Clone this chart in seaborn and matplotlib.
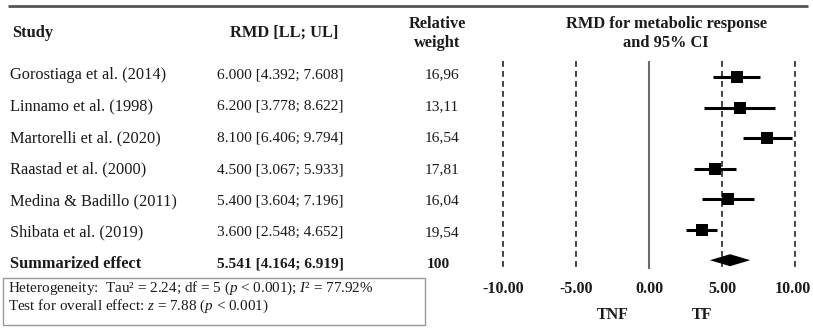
import matplotlib
matplotlib.use("Agg")
import matplotlib.pyplot as plt
import numpy as np
import pandas as pd
import seaborn as sns
from matplotlib.patches import Rectangle
from matplotlib.transforms import offset_copy

# Study-level data
studies = ["Gorostiaga et al. (2014)", "Linnamo et al. (1998)", "Martorelli et al. (2020)",
           "Raastad et al. (2000)", "Medina & Badillo (2011)", "Shibata et al. (2019)"]
rmd = [6.000, 6.200, 8.100, 4.500, 5.400, 3.600]
lower = [4.392, 3.778, 6.406, 3.067, 3.604, 2.548]
upper = [7.608, 8.622, 9.794, 5.933, 7.196, 4.652]
weights = ["16,96", "13,11", "16,54", "17,81", "16,04", "19,54"]

# Pooled estimate
pooled = 5.541
pooled_lower = 4.164
pooled_upper = 6.919
pooled_weight = "100"

ticks = [-10, -5, 0, 5, 10]
reference_lines = [-10, -5, 5, 10]

sns.set_theme(style="white")
plt.rcParams["font.family"] = ["Liberation Serif", "DejaVu Serif"]
plt.rcParams["mathtext.fontset"] = "custom"
plt.rcParams["mathtext.rm"] = "Liberation Serif"
plt.rcParams["mathtext.it"] = "Liberation Serif:italic"
plt.rcParams["mathtext.bf"] = "Liberation Serif:bold"
TXT = "#1a1a1a"
FS = 11.8        # study names
FS_NUM = 11.1    # numeric columns
FS_HEAD = 11.8
FS_TICK = 11.5
FS_NOTE = 10.9

fig = plt.figure(figsize=(8.13, 3.29), dpi=100)

# Text table drawn in a pixel-like coordinate frame
tab = fig.add_axes([0, 0, 1, 1])
tab.set_xlim(0, 813)
tab.set_ylim(329, 0)
tab.axis("off")

tab.plot([8, 808], [6, 6], color="#555555", lw=2, solid_capstyle="butt")

tab.text(12, 33, "Study", fontsize=FS_HEAD, fontweight="bold", color=TXT, va="center", ha="left")
tab.text(284, 33, "RMD [LL; UL]", fontsize=FS_HEAD, fontweight="bold", color=TXT, va="center", ha="center")
tab.text(437, 24, "Relative", fontsize=FS_HEAD, fontweight="bold", color=TXT, va="center", ha="center")
tab.text(437, 43, "weight", fontsize=FS_HEAD, fontweight="bold", color=TXT, va="center", ha="center")
tab.text(666, 24, "RMD for metabolic response", fontsize=FS_HEAD, fontweight="bold", color=TXT, va="center", ha="center")
tab.text(666, 43, "and 95% CI", fontsize=FS_HEAD, fontweight="bold", color=TXT, va="center", ha="center")

row_y0, row_dy = 75, 31.5
for i, (name, m, lo, hi, w) in enumerate(zip(studies, rmd, lower, upper, weights)):
    y = row_y0 + i * row_dy
    tab.text(10, y, name, fontsize=FS, color=TXT, va="center", ha="left")
    tab.text(217, y, f"{m:.3f} [{lo:.3f}; {hi:.3f}]", fontsize=FS_NUM, color=TXT, va="center", ha="left")
    tab.text(442, y, w, fontsize=FS_NUM, color=TXT, va="center", ha="center")

y_sum = row_y0 + len(studies) * row_dy
tab.text(10, y_sum, "Summarized effect", fontsize=FS, fontweight="bold", color=TXT, va="center", ha="left")
tab.text(217, y_sum, f"{pooled:.3f} [{pooled_lower:.3f}; {pooled_upper:.3f}]", fontsize=FS_NUM,
         fontweight="bold", color=TXT, va="center", ha="left")
tab.text(438, y_sum, pooled_weight, fontsize=FS_NUM, fontweight="bold", color=TXT, va="center", ha="center")

tab.add_patch(Rectangle((3, 278), 422, 47, fill=False, edgecolor="#9a9a9a", lw=1))
tab.text(8, 288.5, r"Heterogeneity:  Tau² = 2.24; df = 5 ($p$ < 0.001); $I$² = 77.92%",
         fontsize=FS_NOTE, color=TXT, va="center", ha="left")
tab.text(8, 306.5, r"Test for overall effect: $z$ = 7.88 ($p$ < 0.001)",
         fontsize=FS_NOTE, color=TXT, va="center", ha="left")

# Forest plot axes
ax = fig.add_axes([490 / 813, 0, 318 / 813, 1])
ax.patch.set_alpha(0)
row_px0, row_px = 77.2, 30.5


def prow(px):
    return (px - row_px0) / row_px


rows = np.arange(len(studies))
y_top, y_bot = prow(61), prow(269)
ax.vlines(reference_lines, y_top, y_bot, colors="#222222", lw=1.2, linestyles=(0, (3.5, 2.5)))
ax.vlines([0], y_top, y_bot, colors="#6a6a6a", lw=1.5)

ax.hlines(rows, lower, upper, colors="black", lw=2.2, zorder=3)
df = pd.DataFrame({"rmd": rmd, "row": rows})
sns.scatterplot(data=df, x="rmd", y="row", marker="s", s=8.6 ** 2, color="black",
                edgecolor="black", linewidth=0, ax=ax, zorder=4, legend=False)
ax.set_xlim(-10.87, 10.87)
ax.set_ylim(prow(329), prow(0))
ax.axis("off")

yd = len(studies)
h = 6 / row_px
ax.fill([pooled_lower, pooled, pooled_upper, pooled], [yd, yd - h, yd, yd + h],
        color="black", lw=0, zorder=4)

tick_texts = []
for t in ticks:
    tick_texts.append(ax.text(t, prow(289), f"{t:.2f}", fontsize=FS_TICK, fontweight="bold",
                              color=TXT, ha="center", va="center"))
ax.text(-2.5, prow(315), "TNF", fontsize=FS_TICK, fontweight="bold", color=TXT, ha="center", va="center")
ax.text(3.6, prow(315), "TF", fontsize=FS_TICK, fontweight="bold", color=TXT, ha="center", va="center")

# Keep the outermost tick label inside the figure edge
fig.canvas.draw()
renderer = fig.canvas.get_renderer()
fig_w = fig.bbox.width
for txt in tick_texts:
    bb = txt.get_window_extent(renderer)
    overflow = bb.x1 - (fig_w - 2)
    if overflow > 0:
        txt.set_transform(offset_copy(txt.get_transform(), fig=fig, x=-overflow, units="dots"))

fig.savefig("out.png", dpi=100)
